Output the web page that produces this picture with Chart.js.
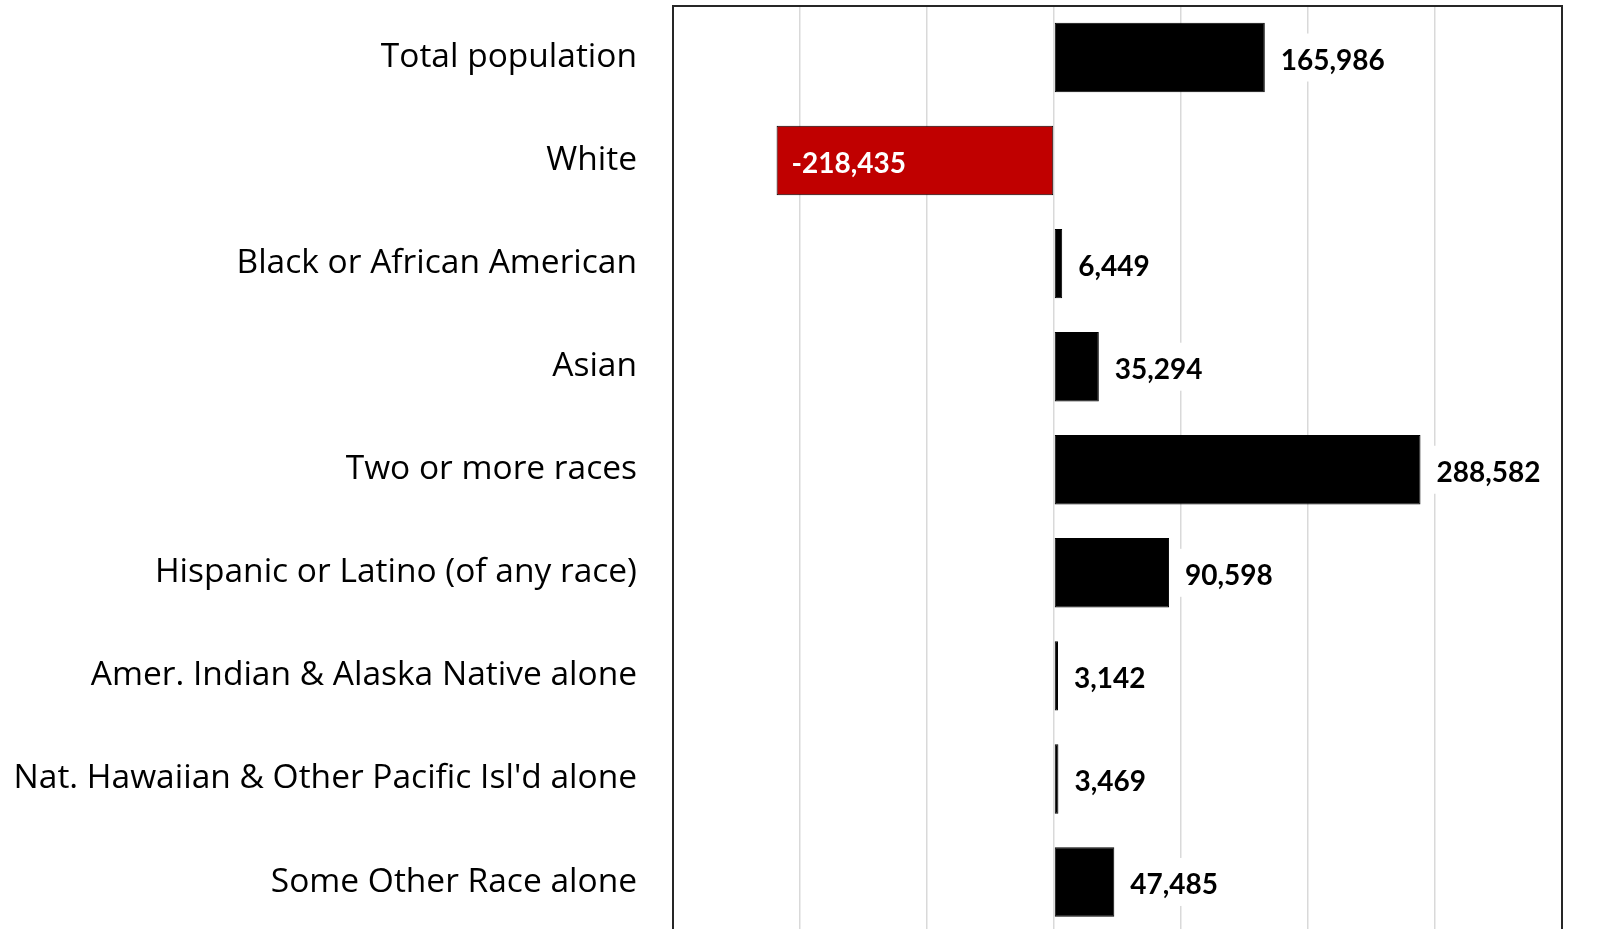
<!DOCTYPE html>
<html>
<head>
<meta charset="utf-8">
<script src="https://cdn.jsdelivr.net/npm/chart.js@4/dist/chart.umd.min.js"></script>
<style>
  html, body { margin: 0; padding: 0; background: #fff; overflow: hidden; }
  #wrap { width: 1612px; height: 940px; position: relative; }
</style>
</head>
<body>
<div id="wrap"><canvas id="c" width="1612" height="940"></canvas></div>
<script>
const categories = [
  "Total population",
  "White",
  "Black or African American",
  "Asian",
  "Two or more races",
  "Hispanic or Latino (of any race)",
  "Amer. Indian & Alaska Native alone",
  "Nat. Hawaiian & Other Pacific Isl'd alone",
  "Some Other Race alone"
];
const changeValues = [165986, -218435, 6449, 35294, 288582, 90598, 3142, 3469, 47485];
const xTicks = [-300000, -200000, -100000, 0, 100000, 200000, 300000, 400000];

const POS_COLOR = "#000000";
const NEG_COLOR = "#C00000";
const barColors = changeValues.map(v => v < 0 ? NEG_COLOR : POS_COLOR);

const fmt = v => v.toLocaleString("en-US");

const labelPlugin = {
  id: "valueLabels",
  afterDatasetsDraw(chart) {
    const ctx = chart.ctx;
    const meta = chart.getDatasetMeta(0);
    ctx.save();
    ctx.font = "bold 28px Lato";
    ctx.textBaseline = "middle";
    ctx.textAlign = "left";
    meta.data.forEach((bar, i) => {
      const v = changeValues[i];
      const txt = fmt(v);
      const w = ctx.measureText(txt).width;
      if (v < 0) {
        const x = bar.x + 15;
        ctx.fillStyle = "#ffffff";
        ctx.fillText(txt, x, bar.y + 3);
      } else {
        const x = bar.x + 16;
        ctx.fillStyle = "#ffffff";
        ctx.fillRect(x - 6, bar.y - 24, w + 12, 48);
        ctx.fillStyle = "#000000";
        ctx.fillText(txt, x, bar.y + 3);
      }
    });
    ctx.restore();
  },
  afterDraw(chart) {
    const a = chart.chartArea;
    const ctx = chart.ctx;
    ctx.save();
    ctx.strokeStyle = "#262626";
    ctx.lineWidth = 2;
    ctx.strokeRect(a.left, a.top, a.right - a.left, a.bottom - a.top);
    ctx.restore();
  }
};

new Chart(document.getElementById("c"), {
  type: "bar",
  data: {
    labels: categories,
    datasets: [{
      data: changeValues,
      backgroundColor: barColors,
      borderColor: "#000000",
      borderWidth: 1,
      borderSkipped: false,
      barPercentage: 0.674,
      categoryPercentage: 1.0
    }]
  },
  options: {
    indexAxis: "y",
    responsive: false,
    animation: false,
    devicePixelRatio: 1,
    layout: { padding: { top: 6, bottom: 6.5, left: 0, right: 50 } },
    plugins: { legend: { display: false }, tooltip: { enabled: false } },
    scales: {
      x: {
        min: xTicks[0],
        max: xTicks[xTicks.length - 1],
        afterBuildTicks(scale) { scale.ticks = xTicks.map(v => ({ value: v })); },
        ticks: { display: false },
        grid: { color: "#d9d9d9", lineWidth: 1.5, drawTicks: false },
        border: { display: false },
        afterFit(scale) { scale.height = 0; scale.paddingLeft = 0; scale.paddingRight = 0; }
      },
      y: {
        ticks: {
          color: "#000000",
          font: { family: "Open Sans", size: 33.5 },
          padding: 36,
          autoSkip: false
        },
        grid: { display: false, drawTicks: false },
        border: { display: false },
        afterFit(scale) { scale.width = 673; scale.paddingTop = 0; scale.paddingBottom = 0; }
      }
    }
  },
  plugins: [labelPlugin]
});
</script>
</body>
</html>
